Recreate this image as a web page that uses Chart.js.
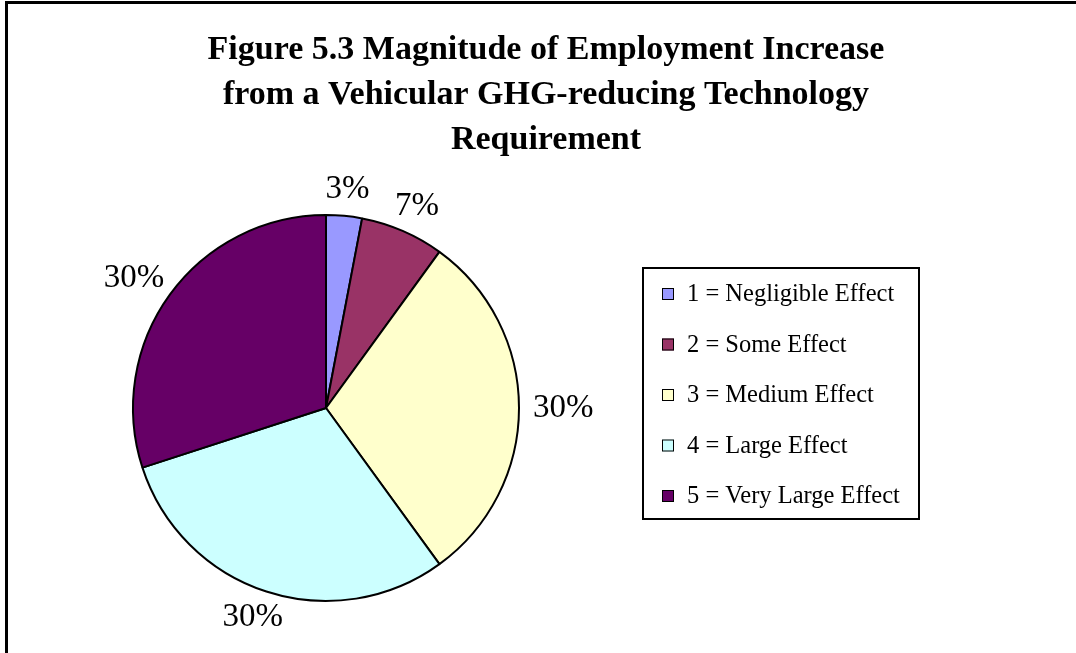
<!DOCTYPE html>
<html>
<head>
<meta charset="utf-8">
<script src="https://cdn.jsdelivr.net/npm/chart.js@4"></script>
<style>
    body { margin: 0; background: #fff; }
    #wrap { width: 1076px; height: 653px; position: relative; }
</style>
</head>
<body>
<div id="wrap"><canvas id="efectoChart" width="1076" height="653"></canvas></div>
<script>
// Datos del grafico
const categorias = ['1 = Negligible Effect', '2 = Some Effect', '3 = Medium Effect', '4 = Large Effect', '5 = Very Large Effect'];
const porcentajes = [3, 7, 30, 30, 30];
const colores = ['#9999FF', '#993366', '#FFFFCC', '#CCFFFF', '#660066'];
const titulo = ['Figure 5.3 Magnitude of Employment Increase', 'from a Vehicular GHG-reducing Technology', 'Requirement'];

const serif = '"Liberation Serif", "Times New Roman", serif';

// Marco, titulo, etiquetas y leyenda
const decoracion = {
    id: 'decoracion',
    afterDraw(chart) {
        const ctx = chart.ctx;
        ctx.save();

        // marco exterior (solo se ven los bordes izquierdo y superior)
        ctx.strokeStyle = '#000';
        ctx.lineWidth = 3;
        ctx.beginPath();
        ctx.moveTo(6.5, 653);
        ctx.lineTo(6.5, 2.5);
        ctx.lineTo(1076, 2.5);
        ctx.stroke();

        // titulo
        ctx.fillStyle = '#000';
        ctx.font = 'bold 34px ' + serif;
        ctx.textAlign = 'center';
        ctx.textBaseline = 'alphabetic';
        titulo.forEach((linea, i) => ctx.fillText(linea, 546, 59 + i * 45));

        // etiquetas de porcentaje fuera de cada porcion
        const meta = chart.getDatasetMeta(0);
        ctx.font = '33px ' + serif;
        ctx.textBaseline = 'middle';
        meta.data.forEach((arco, i) => {
            const p = arco.getProps(['x', 'y', 'startAngle', 'endAngle', 'outerRadius']);
            const medio = (p.startAngle + p.endAngle) / 2;
            const dx = Math.cos(medio), dy = Math.sin(medio);
            const texto = porcentajes[i] + '%';
            const mitadW = ctx.measureText(texto).width / 2;
            const r = p.outerRadius + 14;
            ctx.fillText(texto, p.x + r * dx + mitadW * dx, p.y + r * dy + 13 * dy);
        });

        // leyenda
        ctx.lineWidth = 2;
        ctx.strokeRect(643, 268, 276, 251);
        ctx.font = '24.5px ' + serif;
        ctx.textAlign = 'left';
        chart.data.labels.forEach((et, i) => {
            const y = 294 + i * 50.5;
            ctx.fillStyle = chart.data.datasets[0].backgroundColor[i];
            ctx.fillRect(662, y - 6, 12, 12);
            ctx.lineWidth = 1;
            ctx.strokeStyle = '#000';
            ctx.strokeRect(662.5, y - 5.5, 11, 11);
            ctx.fillStyle = '#000';
            ctx.fillText(et, 687, y + 1);
        });

        ctx.restore();
    }
};

document.addEventListener('DOMContentLoaded', () => {
    const ctx = document.getElementById('efectoChart').getContext('2d');
    new Chart(ctx, {
        type: 'pie',
        data: {
            labels: categorias,
            datasets: [{
                data: porcentajes,
                backgroundColor: colores,
                borderColor: '#000',
                borderWidth: 2,
                hoverOffset: 0,
                radius: 193
            }]
        },
        options: {
            responsive: false,
            animation: false,
            events: [],
            layout: { padding: { left: 0, right: 424, top: 215, bottom: 52 } },
            plugins: {
                legend: { display: false },
                title: { display: false },
                tooltip: { enabled: false }
            }
        },
        plugins: [decoracion]
    });
});
</script>
</body>
</html>
